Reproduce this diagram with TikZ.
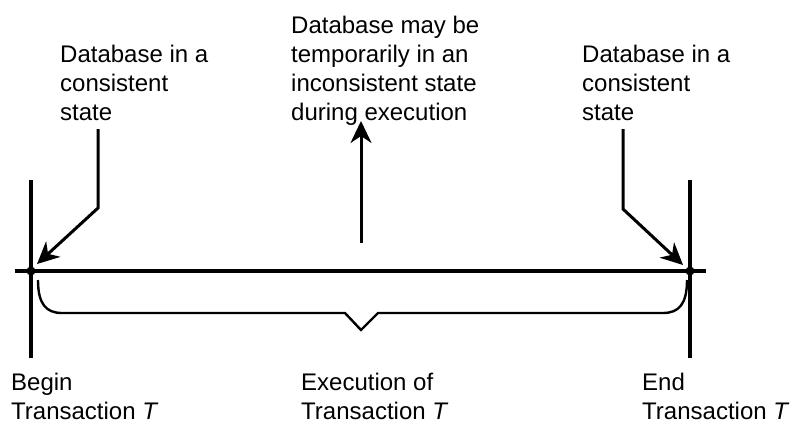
\documentclass[tikz,border=0pt]{standalone}
\usepackage{fontspec}
\setmainfont{Liberation Sans}
\usetikzlibrary{arrows.meta}
\begin{document}
\begin{tikzpicture}[x=1pt,y=-1pt,
  lbl/.style={anchor=base west,inner sep=0pt,align=left,font=\fontsize{24}{29}\selectfont},
  axis/.style={line width=4pt},
  ptr/.style={line width=3pt,-{Stealth[length=22pt,width=21pt,inset=7pt]}},
  brc/.style={line width=2.4pt,line join=miter}]
\useasboundingbox (0,0) rectangle (793,432);
% labels (anchor = baseline of last line)
\node[lbl] (tl) at (60,120) {Database in a\\consistent\\state};
\node[lbl] (tm) at (291,120) {Database may be\\temporarily in an\\inconsistent state\\during execution};
\node[lbl] (tr) at (582,120) {Database in a\\consistent\\state};
\node[lbl] (bl) at (11,419) {Begin\\Transaction \textit{T}};
\node[lbl] (bm) at (301,419) {Execution of\\Transaction \textit{T}};
\node[lbl] (br) at (642,419) {End\\Transaction \textit{T}};
% timeline
\coordinate (L) at (31,271);
\coordinate (R) at (690,271);
\coordinate (la) at (15,271);
\coordinate (ra) at (706,271);
\coordinate (lt) at (31,180);
\coordinate (lb) at (31,358);
\coordinate (rt) at (690,180);
\coordinate (rb) at (690,358);
\draw[axis] (la) -- (ra);
\draw[axis] (lt) -- (lb);
\draw[axis] (rt) -- (rb);
\fill (L) circle (4.5pt);
\fill (R) circle (4.5pt);
% arrows
\coordinate (a1) at (98,129);
\coordinate (a2) at (98,208);
\coordinate (a1e) at (37,264);
\draw[ptr] (a1) -- (a2) -- (a1e);
\coordinate (b1) at (623,129);
\coordinate (b2) at (623,209);
\coordinate (b1e) at (683,265);
\draw[ptr] (b1) -- (b2) -- (b1e);
\coordinate (m1) at (361,243);
\coordinate (m2) at (361,121);
\draw[ptr] (m1) -- (m2);
% brace
\coordinate (c1) at (38,280);
\coordinate (c2) at (62,313);
\coordinate (c3) at (345,313);
\coordinate (c4) at (361,330);
\coordinate (c5) at (378,313);
\coordinate (c6) at (663,313);
\coordinate (c7) at (687,280);
\draw[brc] (c1) .. controls (38,304) and (46,313) .. (c2) -- (c3) -- (c4) -- (c5) -- (c6) .. controls (679,313) and (687,304) .. (c7);
\end{tikzpicture}
\end{document}
